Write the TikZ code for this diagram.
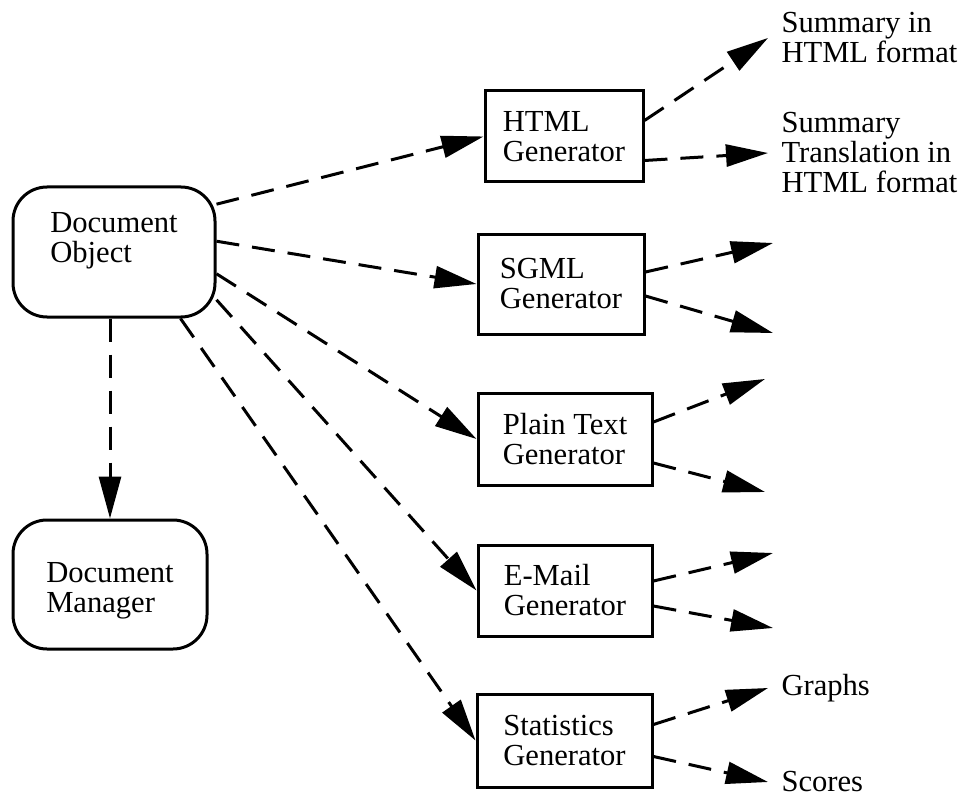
\documentclass[tikz,border=0pt]{standalone}
\usepackage{fontspec}
\setmainfont{Liberation Serif}
\usetikzlibrary{arrows.meta}
\begin{document}
\begin{tikzpicture}[x=0.5pt,y=-0.5pt,>={Triangle[length=21pt,width=11pt]},line width=1.5pt,
	font=\fontsize{15.3}{15}\selectfont,
	docbox/.style={draw,rounded corners=17pt,align=left,inner ysep=10pt},
	gen/.style={draw,align=left},
	outtext/.style={anchor=west,align=left,inner xsep=6pt},
	flow/.style={->,dash pattern=on 11.5pt off 6.5pt}]
\useasboundingbox (0,0) rectangle (970,797);
\node[docbox,text height=28pt,text depth=17pt,minimum width=101pt] (obj) at (114,252) {Document\\Object};
\node[docbox,text height=36pt,text depth=8.5pt,minimum width=97pt] (mgr) at (110,584.5) {Document\\Manager};
\node[gen,minimum width=79pt,minimum height=45.5pt] (html) at (564,136.5) {HTML\\Generator};
\node[gen,minimum width=83pt,minimum height=50pt] (sgml) at (561,284) {SGML\\Generator};
\node[gen,minimum width=87pt,minimum height=46pt] (plain) at (565,439) {Plain Text\\Generator};
\node[gen,minimum width=87pt,minimum height=45.5pt] (email) at (565,590.5) {E-Mail\\Generator};
\node[gen,minimum width=87.5pt,minimum height=46.5pt] (stat) at (564.5,740.5) {Statistics\\Generator};
\node[outtext] (sumhtml) at (768,38) {Summary in\\HTML format};
\node[outtext] (transhtml) at (768,153) {Summary\\Translation in\\HTML format};
\node[outtext] (graphs) at (768,688) {Graphs};
\node[outtext] (scores) at (768,782) {Scores};
\draw[flow] (obj.south -| mgr.north) -- (mgr.north);
\draw[flow] (obj.25) -- (html.west);
\draw[flow] (obj.6) -- (sgml.west);
\draw[flow] (obj.-12) -- (plain.west);
\draw[flow] (obj.-25) -- (email.west);
\draw[flow] (obj.-45) -- (stat.west);
\draw[flow] ([yshift=8pt]html.east) -- (sumhtml.west);
\draw[flow] ([yshift=-12pt]html.east) -- (transhtml.west);
\foreach \g/\up/\dn/\xe/\ya/\yb in {sgml/6/6/773/243/333,plain/8.5/12/765/379/492,email/4.75/7.75/773/553/628}{
	\coordinate (\g-hi) at (\xe,\ya);
	\coordinate (\g-lo) at (\xe,\yb);
	\draw[flow] ([yshift=\up pt]\g.east) -- (\g-hi);
	\draw[flow] ([yshift=-\dn pt]\g.east) -- (\g-lo);
}
\draw[flow] ([yshift=8pt]stat.east) -- (graphs.west);
\draw[flow] ([yshift=-8pt]stat.east) -- (scores.west);
\end{tikzpicture}
\end{document}
